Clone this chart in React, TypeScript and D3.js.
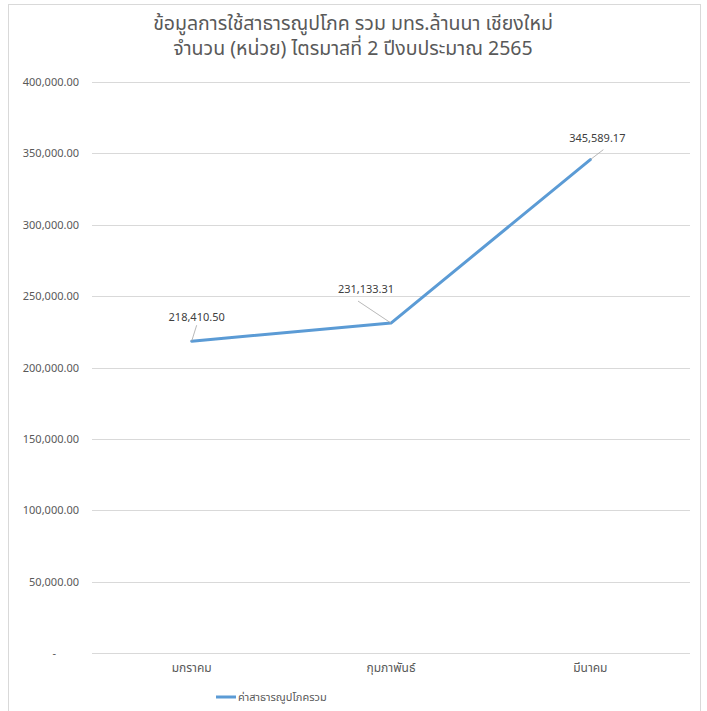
import React, { useEffect, useRef } from 'react';
import * as d3 from 'd3';

const months = ['มกราคม', 'กุมภาพันธ์', 'มีนาคม'];
const totals = [218410.5, 231133.31, 345589.17];
const yTicks = [0, 50000, 100000, 150000, 200000, 250000, 300000, 350000, 400000];
const titleLines = ['ข้อมูลการใช้สาธารณูปโภค รวม มทร.ล้านนา เชียงใหม่', 'จำนวน (หน่วย) ไตรมาสที่ 2 ปีงบประมาณ 2565'];
const seriesName = 'ค่าสาธารณูปโภครวม';
// label offsets relative to each point (dx, dy)
const labelOffsets = [[5, -20], [-25, -30], [7, -18]];

const width = 707;
const height = 711;
const margin = { top: 82, right: 17, bottom: 58, left: 92 };
const font = '"Segoe UI", "Noto Sans", "Noto Sans Thai", Tahoma, sans-serif';

const App: React.FC = () => {
    const ref = useRef<SVGSVGElement>(null);

    useEffect(() => {
        const svg = d3.select(ref.current);
        svg.selectAll('*').remove();

        const innerW = width - margin.left - margin.right;
        const innerH = height - margin.top - margin.bottom;

        svg.append('rect')
            .attr('x', 0).attr('y', 0).attr('width', width).attr('height', height)
            .attr('fill', '#fff');
        svg.append('rect')
            .attr('x', 8.5).attr('y', 4.5).attr('width', 692).attr('height', 720)
            .attr('fill', 'none').attr('stroke', '#d9d9d9');

        const title = svg.append('text')
            .attr('text-anchor', 'middle')
            .attr('font-family', font)
            .attr('font-size', 19.5)
            .attr('fill', '#595959');
        titleLines.forEach((t, i) => {
            title.append('tspan').attr('x', 353).attr('y', 30 + i * 25).text(t);
        });

        const g = svg.append('g').attr('transform', `translate(${margin.left},${margin.top})`);

        const x = d3.scaleBand().domain(months).range([0, innerW]);
        const y = d3.scaleLinear().domain([0, 400000]).range([innerH, 0]);

        g.selectAll('.grid')
            .data(yTicks)
            .enter()
            .append('line')
            .attr('x1', 0).attr('x2', innerW)
            .attr('y1', d => Math.round(y(d)) + 0.5)
            .attr('y2', d => Math.round(y(d)) + 0.5)
            .attr('stroke', '#d9d9d9');

        const fmt = d3.format(',.2f');
        g.selectAll('.ytick')
            .data(yTicks)
            .enter()
            .append('text')
            .attr('x', d => (d === 0 ? -36 : -13))
            .attr('y', d => y(d) + 4)
            .attr('text-anchor', 'end')
            .attr('font-family', font)
            .attr('font-size', 11)
            .attr('fill', '#595959')
            .text(d => (d === 0 ? '-' : fmt(d)));

        g.selectAll('.xtick')
            .data(months)
            .enter()
            .append('text')
            .attr('x', d => (x(d) ?? 0) + x.bandwidth() / 2)
            .attr('y', innerH + 19)
            .attr('text-anchor', 'middle')
            .attr('font-family', font)
            .attr('font-size', 12)
            .attr('fill', '#595959')
            .text(d => d);

        const pts = months.map((m, i) => ({ x: (x(m) ?? 0) + x.bandwidth() / 2, y: y(totals[i]), v: totals[i] }));

        const line = d3.line<{ x: number; y: number }>().x(d => d.x).y(d => d.y);
        g.append('path')
            .datum(pts)
            .attr('d', line)
            .attr('fill', 'none')
            .attr('stroke', '#5b9bd5')
            .attr('stroke-width', 3)
            .attr('stroke-linejoin', 'round')
            .attr('stroke-linecap', 'round');

        pts.forEach((p, i) => {
            const [dx, dy] = labelOffsets[i];
            const lx = p.x + dx;
            const ly = p.y + dy;
            // leader line
            let ex = lx;
            let ey = ly + 4;
            if (i === 1) { ex = lx - 8; ey = ly + 8; }
            if (i === 2) { ex = lx + 6; ey = ly + 8; }
            g.append('line')
                .attr('x1', p.x).attr('y1', p.y)
                .attr('x2', ex).attr('y2', ey)
                .attr('stroke', '#a6a6a6')
                .attr('stroke-width', 0.8);
            g.append('text')
                .attr('x', lx)
                .attr('y', ly)
                .attr('text-anchor', 'middle')
                .attr('font-family', font)
                .attr('font-size', 11)
                .attr('fill', '#404040')
                .text(fmt(p.v));
        });

        const legend = svg.append('g').attr('transform', 'translate(216,697)');
        legend.append('line')
            .attr('x1', 0).attr('x2', 20).attr('y1', 0).attr('y2', 0)
            .attr('stroke', '#5b9bd5').attr('stroke-width', 3);
        legend.append('text')
            .attr('x', 22).attr('y', 4)
            .attr('font-family', font)
            .attr('font-size', 11)
            .attr('fill', '#595959')
            .text(seriesName);
    }, []);

    return <svg ref={ref} width={width} height={height} style={{ position: 'absolute', left: 0, top: 0 }}></svg>;
};

export default App;
